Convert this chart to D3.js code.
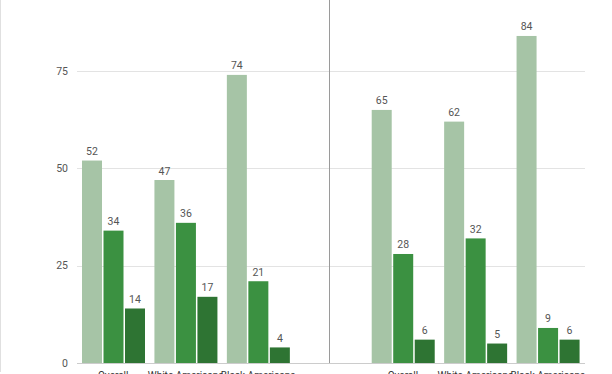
<!DOCTYPE html>
<html>
<head>
<meta charset="utf-8">
<script src="https://cdn.jsdelivr.net/npm/d3@7"></script>
<style>
  body { margin: 0; background: #fff; }
  svg { display: block; font-family: Roboto, Arial, sans-serif; }
</style>
</head>
<body>
<svg id="chart" width="612" height="374"></svg>
<script>
// slots of the one chart: three groups, an empty slot for the divider, three groups
var slots = ['o1', 'w1', 'b1', 'gap', 'o2', 'w2', 'b2'];
var slotLabels = ['Overall', 'White Americans', 'Black Americans', '', 'Overall', 'White Americans', 'Black Americans'];
var seriesKeys = ['s1', 's2', 's3'];
var series1 = [52, 47, 74, null, 65, 62, 84];
var series2 = [34, 36, 21, null, 28, 32, 9];
var series3 = [14, 17, 4, null, 6, 5, 6];
var yTicks = [0, 25, 50, 75];

var colors = {s1: '#a6c4a6', s2: '#3b9141', s3: '#2e7433'};

var svg = d3.select('#chart');
var W = 612, H = 374;

var x = d3.scaleBand().domain(slots).range([77, 584]).padding(0);
var xInner = d3.scaleBand().domain(seriesKeys).range([5, 68]).paddingInner(0.07);
var y = d3.scaleLinear().domain([0, 75]).range([363, 71]);

// light frame line at the left edge
svg.append('line')
    .attr('x1', 0.5).attr('x2', 0.5).attr('y1', 0).attr('y2', 372)
    .style('stroke', '#e0e0e0');

// gridlines
svg.selectAll('.grid').data(yTicks).enter().append('line')
    .attr('class', 'grid')
    .attr('x1', 77).attr('x2', 585)
    .attr('y1', function(d) { return Math.round(y(d)) + 0.5; })
    .attr('y2', function(d) { return Math.round(y(d)) + 0.5; })
    .style('stroke', function(d) { return d === 0 ? '#cccccc' : '#e3e3e3'; });

// y tick labels
svg.selectAll('.ytick').data(yTicks).enter().append('text')
    .attr('class', 'ytick')
    .attr('x', 68).attr('y', function(d) { return y(d); })
    .attr('dy', '0.35em')
    .attr('text-anchor', 'end')
    .style('font-size', '10.5px')
    .style('fill', '#555')
    .text(function(d) { return d; });

// divider between the two panels
svg.append('line')
    .attr('x1', x('gap') + x.bandwidth() / 2 - 1).attr('x2', x('gap') + x.bandwidth() / 2 - 1)
    .attr('y1', 0).attr('y2', 363)
    .style('stroke', '#9a9a9a');

var rows = slots.map(function(s, i) {
    return {slot: s, s1: series1[i], s2: series2[i], s3: series3[i]};
}).filter(function(d) { return d.s1 !== null; });

var groups = svg.selectAll('.group').data(rows).enter().append('g')
    .attr('class', 'group')
    .attr('transform', function(d) { return 'translate(' + x(d.slot) + ',0)'; });

var bars = groups.selectAll('g.bar').data(function(d) {
    return seriesKeys.map(function(k) { return {key: k, value: d[k]}; });
}).enter().append('g').attr('class', 'bar');

bars.append('rect')
    .attr('x', function(d) { return xInner(d.key); })
    .attr('width', xInner.bandwidth())
    .attr('y', function(d) { return y(d.value); })
    .attr('height', function(d) { return y(0) - y(d.value); })
    .style('fill', function(d) { return colors[d.key]; });

bars.append('text')
    .attr('x', function(d) { return xInner(d.key) + xInner.bandwidth() / 2; })
    .attr('y', function(d) { return y(d.value) - 5.5; })
    .attr('text-anchor', 'middle')
    .style('font-size', '10.5px')
    .style('fill', '#555')
    .text(function(d) { return d.value; });

// category labels, cut off by the bottom edge as in the original
svg.selectAll('.xlabel').data(slots).enter().append('text')
    .attr('class', 'xlabel')
    .attr('x', function(d) { return x(d) + x.bandwidth() / 2; })
    .attr('y', 379)
    .attr('text-anchor', 'middle')
    .style('font-size', '10px')
    .style('fill', '#333')
    .text(function(d, i) { return slotLabels[i]; });
</script>
</body>
</html>
